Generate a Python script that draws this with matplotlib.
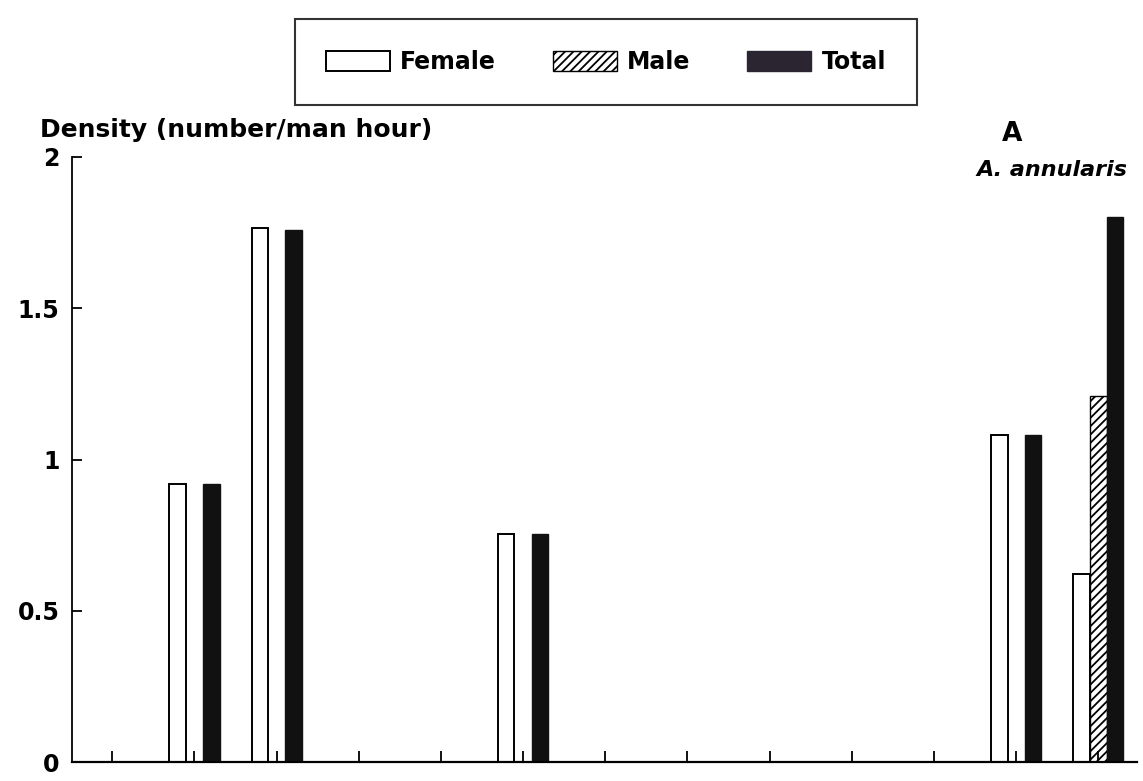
import matplotlib
matplotlib.use("Agg")
import matplotlib.pyplot as plt
from matplotlib.patches import Patch
import numpy as np

plt.rcParams['font.family'] = ['DejaVu Sans']
plt.rcParams['hatch.linewidth'] = 1.3

# 13 sites (unlabelled tick positions)
sites = list(range(13))
female = [0, 0.92, 1.765, 0, 0, 0.755, 0, 0, 0, 0, 0, 1.08, 0.62]
male   = [0, 0,    0,     0, 0, 0,     0, 0, 0, 0, 0, 0,    1.21]
total  = [0, 0.92, 1.76,  0, 0, 0.755, 0, 0, 0, 0, 0, 1.08, 1.80]
yticks = [0, 0.5, 1, 1.5, 2]
ytick_labels = ['0', '0.5', '1', '1.5', '2']

fig = plt.figure(figsize=(11.43, 7.81), dpi=100)
ax = fig.add_axes([0.063, 0.0243, 0.9317, 0.7747])

x = np.array(sites, dtype=float)
w = 0.2
off = 0.205

def draw(vals, dx, **kw):
    vals = np.array(vals)
    m = vals > 0
    ax.bar(x[m] + dx, vals[m], width=w, **kw)

draw(female, -off, color='white', edgecolor='black', linewidth=1.4)
draw(male, 0, color='white', edgecolor='black', linewidth=1.0, hatch='////')
draw(total, off, color='#111111', edgecolor='#111111', linewidth=1.0)

ax.set_xlim(-0.49, 12.47)
ax.set_ylim(0, 2)
ax.set_xticks(sites)
ax.set_xticklabels([])
ax.set_yticks(yticks)
ax.set_yticklabels(ytick_labels, fontsize=17, fontweight='bold')
ax.tick_params(axis='y', direction='in', length=7, width=1.3, pad=9)
ax.tick_params(axis='x', direction='in', length=8, width=1.3)
for s in ['top', 'right']:
    ax.spines[s].set_visible(False)
ax.spines['left'].set_linewidth(1.3)
ax.spines['bottom'].set_linewidth(1.6)

fig.text(40/1143, 1 - 130/781, 'Density (number/man hour)', fontsize=18,
         fontweight='bold', ha='left', va='center')
fig.text(1012/1143, 1 - 134/781, 'A', fontsize=19, fontweight='bold',
         ha='center', va='center')
fig.text(1127/1143, 1 - 170/781, 'A. annularis', fontsize=16,
         fontweight='bold', style='italic', ha='right', va='center')

handles = [Patch(facecolor='white', edgecolor='black', linewidth=1.4),
           Patch(facecolor='white', edgecolor='black', linewidth=1.0, hatch='////'),
           Patch(facecolor='#2a2530', edgecolor='#2a2530')]
leg = fig.legend(handles, ['Female', 'Male', 'Total'], loc='center',
                 bbox_to_anchor=(606/1143, 1 - 62/781), ncol=3,
                 prop={'size': 17, 'weight': 'bold'}, frameon=True,
                 fancybox=False, edgecolor='black', borderpad=1.3,
                 handlelength=2.7, handleheight=0.9, handletextpad=0.45,
                 columnspacing=2.4)
leg.get_frame().set_linewidth(1.5)

fig.savefig('out.png', dpi=100)
